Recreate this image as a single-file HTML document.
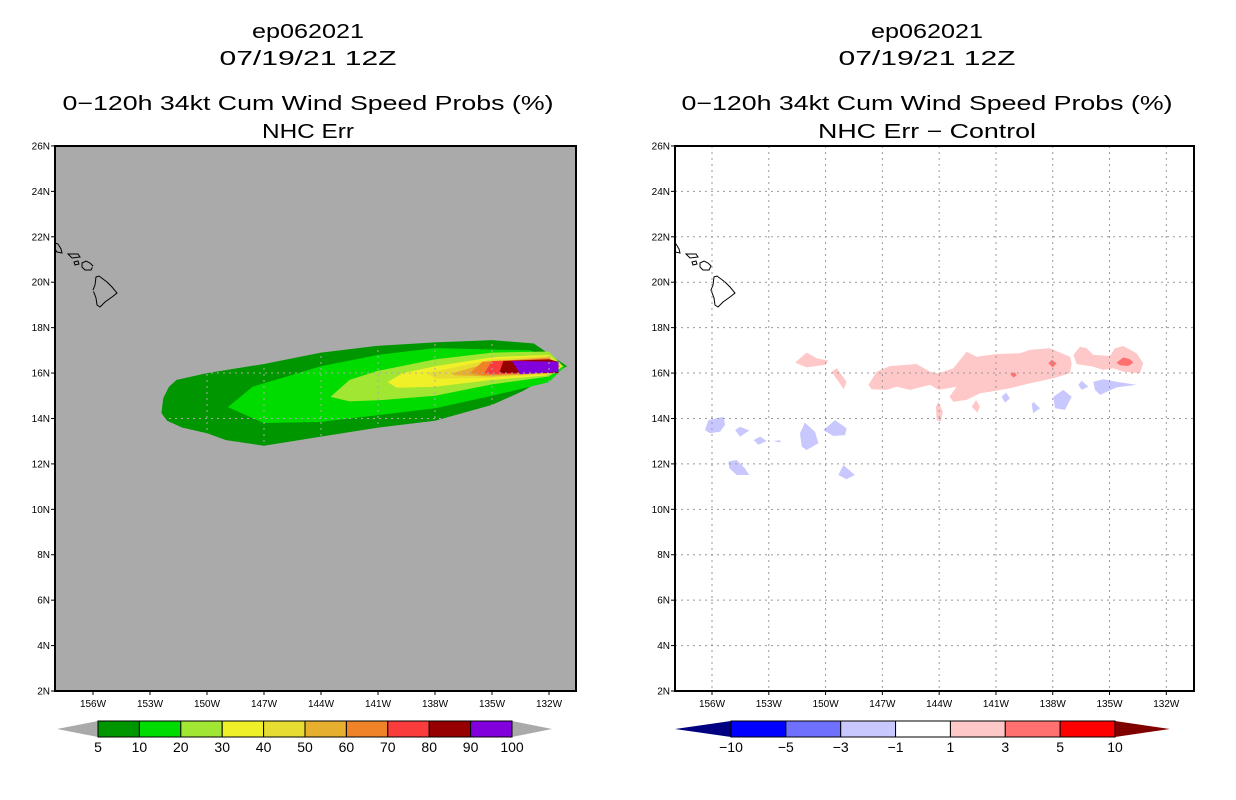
<!DOCTYPE html>
<html><head><meta charset="utf-8"><style>
html,body{margin:0;padding:0;background:#fff;}
svg{display:block;font-family:"Liberation Sans",sans-serif;}
</style></head><body>
<svg id="chart" width="1236" height="800" viewBox="0 0 1236 800" xmlns="http://www.w3.org/2000/svg">
<rect width="1236" height="800" fill="#fff"/>
<g id="left"></g>
<g id="right"></g>
</svg>
<script>
// ---- axis data ----
const lonTicks = [156,153,150,147,144,141,138,135,132];
const latTicks = [2,4,6,8,10,12,14,16,18,20,22,24,26];
const leftLevels = ["5","10","20","30","40","50","60","70","80","90","100"];
const leftColors = ["#009600","#00dc00","#a0e632","#f0f028","#e6dc32","#e6af2d","#f08228","#fa3c3c","#960000","#8200dc"];
const rightLevels = ["-10","-5","-3","-1","1","3","5","10"];
const rightColors = ["#0000ff","#7070ff","#c8c8ff","#ffffff","#ffc8c8","#ff7070","#ff0000"];
// left contour polygons [lonW, lat]
const c5 = [[152.4,14.24],[152.3,14.9],[152,15.4],[151.6,15.7],[150,16.0],[147,16.4],[144,16.9],[141,17.2],[138,17.35],[135,17.45],[132.8,17.3],[131.05,16.3],[133.4,15.2],[135,14.6],[138,13.9],[141,13.6],[144,13.2],[147,12.8],[149,13.05],[150,13.35],[151.3,13.6],[152.1,13.9]];
const c10 = [[148.9,14.5],[147.6,15.4],[144,16.3],[141,16.8],[138,17.1],[133,17.0],[131.15,16.3],[132,15.6],[135,15.0],[138,14.45],[141,14.15],[144,13.85],[147,13.8],[147.7,14.05]];
const c20 = [[143.5,14.95],[142.5,15.7],[141,16.1],[138,16.6],[135,16.9],[132,16.95],[131.25,16.3],[132,15.85],[135,15.5],[138,15.0],[141,14.8],[142.5,14.75]];
const c30 = [[140.5,15.6],[139.7,16.0],[138,16.3],[135,16.7],[132,16.8],[131.3,16.3],[132,15.9],[135,15.7],[138,15.4],[140,15.35]];
const c40 = [[138.4,16.0],[135,16.6],[132,16.75],[131.35,16.3],[132,15.95],[135,15.8],[138,15.75]];
const c50 = [[137.05,16.0],[135,16.5],[132,16.7],[131.4,16.3],[132,16.0],[135,15.85],[137,15.9]];
const c60 = [[136.15,16.0],[135.5,16.5],[132,16.65],[131.45,16.3],[132,16.0],[135.5,15.9]];
const c70 = [[135.4,16.0],[135,16.53],[132,16.6],[131.5,16.3],[132,16.0],[135,15.95]];
const c80 = [[134.6,16.05],[134.4,16.53],[132,16.6],[131.5,16.5],[131.5,16.1],[131.5,16.0],[134.4,16.0]];
const c90 = [[133.95,16.53],[131.5,16.5],[131.5,16.05],[133.5,15.95]];
const leftContours = [c5,c10,c20,c30,c40,c50,c60,c70,c80,c90];
// right difference blobs
const pinkBlobs = [
 [[147.74,15.48],[147.3,16.06],[146.6,16.31],[145.19,16.4],[144.48,16.06],[144.04,15.99],[143.25,16.21],[142.55,16.94],[142.02,16.72],[140.96,16.84],[139.73,16.87],[139.2,17.02],[138.15,17.09],[137.09,16.72],[137.0,16.43],[137.09,15.99],[137.97,15.77],[139.2,15.55],[140.26,15.33],[141.31,15.18],[141.84,15.11],[142.55,14.82],[143.25,14.74],[143.46,14.96],[143.08,15.4],[144.04,15.26],[144.48,15.48],[145.54,15.26],[146.24,15.4],[146.77,15.26],[147.57,15.29]],
 [[136.91,16.8],[136.56,17.16],[136.21,17.09],[135.86,16.8],[134.98,16.75],[134.71,17.09],[134.27,17.19],[133.57,16.87],[133.22,16.43],[133.39,15.99],[134.27,16.06],[134.8,16.21],[135.33,16.14],[135.86,16.28],[136.74,16.4]],
 [[151.61,16.46],[151.0,16.9],[150.47,16.65],[149.85,16.55],[150.03,16.36],[151.0,16.25]],
 [[149.68,16.06],[149.41,16.21],[148.89,15.62],[149.03,15.29],[149.5,15.84]],
 [[144.17,14.52],[144.04,14.74],[143.81,14.3],[143.92,13.86],[144.13,13.93]],
 [[142.28,14.52],[142.05,14.82],[141.84,14.52],[141.98,14.26]]];
const redBlobs = [
 [[134.63,16.46],[134.27,16.69],[133.92,16.61],[133.74,16.46],[134.01,16.31],[134.45,16.34]],
 [[138.23,16.43],[138.06,16.58],[137.79,16.43],[138.0,16.25]],
 [[140.26,15.96],[140.0,16.03],[139.91,15.89],[140.08,15.81]]];
const blueBlobs = [
 [[135.86,15.62],[135.33,15.73],[134.63,15.62],[133.57,15.48],[134.63,15.37],[135.5,15.04],[135.77,15.26]],
 [[136.65,15.48],[136.47,15.67],[136.12,15.4],[136.47,15.26]],
 [[137.97,14.96],[137.44,15.26],[137.0,14.96],[137.35,14.38],[137.88,14.45]],
 [[139.11,14.6],[139.03,14.74],[138.67,14.45],[139.03,14.23]],
 [[140.7,14.96],[140.47,15.14],[140.26,14.89],[140.52,14.7]],
 [[156.37,13.49],[156.19,13.93],[155.4,14.08],[155.31,13.72],[155.58,13.42],[156.1,13.35]],
 [[154.78,13.49],[154.52,13.64],[154.03,13.47],[154.52,13.2]],
 [[153.81,13.05],[153.46,13.2],[153.11,13.01],[153.55,12.84]],
 [[152.76,13.01],[152.41,13.05],[152.37,12.94]],
 [[151.35,13.35],[151.09,13.82],[150.56,13.42],[150.38,12.91],[151.0,12.61],[151.26,12.76]],
 [[150.12,13.49],[149.5,13.93],[148.89,13.57],[148.97,13.27],[149.59,13.23]],
 [[155.14,12.1],[154.7,12.17],[154.26,11.81],[154.03,11.51],[154.7,11.51],[155.08,11.81]],
 [[149.33,11.51],[149.06,11.95],[148.45,11.51],[148.89,11.32]]];

const NS='http://www.w3.org/2000/svg';
function mk(tag,attrs,parent,text){const e=document.createElementNS(NS,tag);for(const k in attrs)e.setAttribute(k,attrs[k]);if(text!==undefined)e.textContent=text;parent.appendChild(e);return e;}

function makePanel(g, cfg){
  const x = w => cfg.x156 + (156 - w)*cfg.pxDeg;
  const y = lat => 691 - (lat - 2)*22.71;
  const pts = arr => arr.map(p=>x(p[0]).toFixed(1)+','+y(p[1]).toFixed(1)).join(' ');
  const tl = [["ep062021",38,112],["07/19/21 12Z",65,177],[cfg.title,110,491],[cfg.sub,138,cfg.subW]];
  tl.forEach((t,i)=>{
    const e=mk('text',{x:cfg.cx,y:t[1],'text-anchor':'middle','font-size':20,textLength:t[2],lengthAdjust:'spacingAndGlyphs',fill:'#000'},g,t[0]);
    
    
  });
  const bg=mk('rect',{x:cfg.x0,y:146,width:cfg.x1-cfg.x0,height:545,fill:cfg.bg},g);
  
  
  const clipId='clip'+cfg.id;
  const cp=mk('clipPath',{id:clipId},g);mk('rect',{x:cfg.x0,y:146,width:cfg.x1-cfg.x0,height:545},cp);
  const inner=mk('g',{'clip-path':'url(#'+clipId+')'},g);
  cfg.draw(inner,pts);
  const hw=mk('g',{transform:'translate('+cfg.hx+',0)',fill:'none',stroke:'#000','stroke-width':1},inner);
  
  
  mk('polygon',{points:'96,277 99,276 107,282 112,287 117,293 112,297 105,302 100,307 97,305 96,298 93,290 95,285'},hw);
  mk('polygon',{points:'82,263 86,261 90,263 93,266 91,270 85,270 82,267'},hw);
  mk('polygon',{points:'74,262 78,261 79,264 75,265'},hw);
  mk('polygon',{points:'68,254 78,254 80,257 72,258'},hw);
  mk('polygon',{points:'55,243 58,244 61,249 62,253 57,252 55,249'},hw);
  lonTicks.forEach(w=>{const l=mk('line',{x1:x(w),x2:x(w),y1:146,y2:691,stroke:cfg.grid,'stroke-dasharray':'2,4'},inner);});
  latTicks.forEach(la=>{const l=mk('line',{x1:cfg.x0,x2:cfg.x1,y1:y(la),y2:y(la),stroke:cfg.grid,'stroke-dasharray':'2,4'},inner);});
  const fr=mk('rect',{x:cfg.x0,y:146,width:cfg.x1-cfg.x0,height:545,fill:'none',stroke:'#000','stroke-width':2},g);
  
  
  latTicks.forEach(la=>{
    mk('line',{x1:cfg.x0-4,x2:cfg.x0,y1:y(la),y2:y(la),stroke:'#000'},g);
    const t=mk('text',{x:cfg.x0-5,y:y(la)+3.5,'text-anchor':'end','font-size':10},g,la+'N');
    
    
  });
  lonTicks.forEach(w=>{
    mk('line',{x1:x(w),x2:x(w),y1:691,y2:695,stroke:'#000'},g);
    const t=mk('text',{x:x(w),y:707,'text-anchor':'middle','font-size':10},g,w+'W');
    
    
  });
  const cb=mk('g',{},g);
  
  
  const n=cfg.colors.length, bw=(cfg.b1-cfg.b0)/n, yt=721, yb=737;
  mk('polygon',{points:cfg.tip0+','+(yt+yb)/2+' '+cfg.b0+','+yt+' '+cfg.b0+','+yb,fill:cfg.lowC},cb);
  mk('polygon',{points:cfg.tip1+','+(yt+yb)/2+' '+cfg.b1+','+yt+' '+cfg.b1+','+yb,fill:cfg.highC},cb);
  cfg.colors.forEach((c,i)=>{
    const r=mk('rect',{x:cfg.b0+i*bw,y:yt,width:bw,height:yb-yt,fill:c,stroke:'#000','stroke-width':1},cb);
    
    
  });
  cfg.labels.forEach((lb,i)=>{
    const xi = cfg.b0+i*bw;
    const t=mk('text',{x:xi,y:752,'text-anchor':'middle','font-size':14},cb,lb.replace('-','\u2212'));
    
    
  });
}

makePanel(document.getElementById('left'),{
  id:'L',x0:55,x1:576,x156:93,pxDeg:19,cx:308,bg:'#aaaaaa',grid:'#aaaaaa',hx:0,
  title:'0\u2212120h 34kt Cum Wind Speed Probs (%)',sub:'NHC Err',subW:92,
  colors:leftColors,labels:leftLevels,b0:98,b1:512,tip0:57,tip1:552,lowC:'#aaaaaa',highC:'#aaaaaa',
  draw:(g,pts)=>{leftContours.forEach((c,i)=>{const p=mk('polygon',{points:pts(c),fill:leftColors[i]},g);});}
});
makePanel(document.getElementById('right'),{
  id:'R',x0:675,x1:1194,x156:712,pxDeg:18.93,cx:927,bg:'#ffffff',grid:'#999999',hx:618,
  title:'0\u2212120h 34kt Cum Wind Speed Probs (%)',sub:'NHC Err \u2212 Control',subW:218,
  colors:rightColors,labels:rightLevels,b0:731,b1:1115,tip0:675,tip1:1170,lowC:'#000080',highC:'#800000',
  draw:(g,pts)=>{
    pinkBlobs.forEach(b=>{const p=mk('polygon',{points:pts(b),fill:'#ffc8c8'},g);});
    redBlobs.forEach(b=>{const p=mk('polygon',{points:pts(b),fill:'#ff7070'},g);});
    blueBlobs.forEach(b=>{const p=mk('polygon',{points:pts(b),fill:'#c8c8ff'},g);});
  }
});
</script>
</body></html>
